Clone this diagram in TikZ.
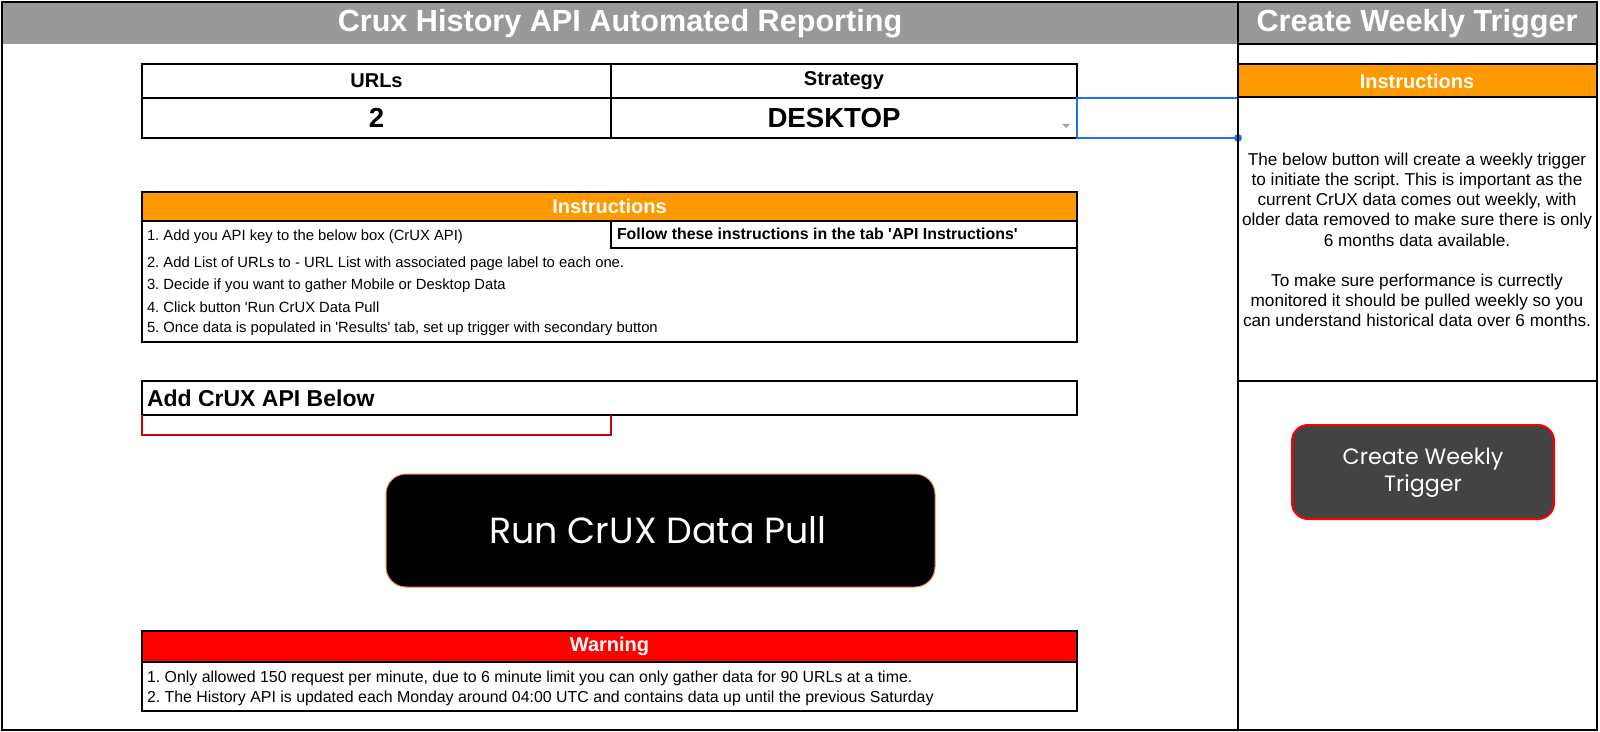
\documentclass[tikz,border=0pt]{standalone}
\usepackage{fontspec}
\setmainfont{Liberation Sans}[Ligatures = TeXOff]
\newfontfamily\btnfont{Poppins}
\usetikzlibrary{positioning}
\frenchspacing

\definecolor{titlegray}{HTML}{999999}
\definecolor{instrorange}{HTML}{FF9900}
\definecolor{warnred}{HTML}{FF0000}
\definecolor{btngray}{HTML}{434343}
\definecolor{selblue}{HTML}{1A73E8}
\definecolor{btnedge}{HTML}{E69138}
\definecolor{celledge}{HTML}{CC0000}

\begin{document}
\begin{tikzpicture}[
                x = 0.5pt, y = -0.5pt, % one unit per pixel
                node distance = 10.75pt, % distance between step lines
                line width = 1pt % cell borders
            ]

            \tikzstyle{every node}=[
            inner sep = 0pt,
            outer sep = 0pt
            ]
            \tikzstyle{big}=[text = white, font = \bfseries\fontsize{15.3}{18}\selectfont]
            \tikzstyle{head}=[text = white, font = \bfseries\fontsize{10}{12}\selectfont]
            \tikzstyle{stepline}=[anchor = west, font = \fontsize{7.4}{9}\selectfont]
            \tikzstyle{warnline}=[anchor = west, font = \fontsize{7.95}{9.5}\selectfont]
            \tikzstyle{btn}=[text = white, align = center]

            \useasboundingbox (0,0) rectangle (1600,732);

            % title bar
            \fill[titlegray] (2,2) rectangle (1597,44);
            \node[big] (title) at (620,24) {Crux History API Automated Reporting};
            \node[big] (trig) at (1417,24) {Create Weekly Trigger};

            % right column
            \fill[instrorange] (1238,64) rectangle (1597,97);
            \node[head] (rinstr) at (1417,81) {Instructions};
            \node[font = \fontsize{8.6}{10.1}\selectfont, align = center] (rtext) at (1417,240)
                {The below button will create a weekly trigger\\
                 to initiate the script. This is important as the\\
                 current CrUX data comes out weekly, with\\
                 older data removed to make sure there is only\\
                 6 months data available.\\[10.1pt]
                 To make sure performance is currectly\\
                 monitored it should be pulled weekly so you\\
                 can understand historical data over 6 months.};
            \draw[rounded corners = 8pt, fill = btngray, draw = red] (1292,425) rectangle (1554,519);
            \node[btn, font = \btnfont\fontsize{11.1}{13.5}\selectfont] (weekly) at (1423,473) {Create Weekly\\Trigger};
            \draw (1238,44) -- (1597,44);
            \draw (1238,64) -- (1597,64) (1238,97) -- (1597,97) (1238,381) -- (1597,381);

            % url table
            \node[font = \bfseries\fontsize{10}{12}\selectfont] (urls) at (376.5,81) {URLs};
            \node[font = \bfseries\fontsize{10}{12}\selectfont] (strat) at (844,81) {Strategy};
            \node[font = \bfseries\fontsize{13.8}{16}\selectfont] (count) at (376.5,118) {2};
            \node[font = \bfseries\fontsize{13.8}{16}\selectfont] (mode) at (834,118) {DESKTOP};
            \fill[gray!70] (1062,124) -- (1070,124) -- (1066,128) -- cycle;
            \draw (142,64) rectangle (1077,138) (142,98) -- (1077,98) (611,64) -- (611,138);
            \draw[selblue, line width = 0.75pt] (1077,98) rectangle (1238,138);
            \fill[selblue] (1238,138) circle (4);

            % instructions
            \fill[instrorange] (142,192) rectangle (1077,221);
            \node[head] (instr) at (609.5,206) {Instructions};
            \node[stepline] (s1) at (147,237) {1. Add you API key to the below box (CrUX API)};
            \node[stepline] (s2) at (147,264) {2. Add List of URLs to - URL List with associated page label to each one.};
            \node[stepline, below = of s2.west, anchor = west] (s3) {3. Decide if you want to gather Mobile or Desktop Data};
            \node[stepline, below = of s3.west, anchor = west] (s4) {4. Click button 'Run CrUX Data Pull};
            \node[stepline, below = of s4.west, anchor = west] (s5) {5. Once data is populated in 'Results' tab, set up trigger with secondary button};
            \node[warnline, font = \bfseries\fontsize{7.95}{9.5}\selectfont] (follow) at (617,234) {Follow these instructions in the tab 'API Instructions'};
            \draw (142,192) rectangle (1077,342) (142,221) -- (1077,221);
            \draw (611,221) rectangle (1077,248);

            % api key box
            \node[anchor = west, font = \bfseries\fontsize{11.5}{14}\selectfont] (apikey) at (147,398) {Add CrUX API Below};
            \draw (142,381) rectangle (1077,415);
            \draw[celledge] (142,415) -- (142,435) -- (611,435) -- (611,415);

            % run button
            \draw[rounded corners = 10pt, fill = black, draw = btnedge, line width = 0.5pt] (386,474) rectangle (935,587);
            \node[btn, font = \btnfont\fontsize{18.2}{21}\selectfont] (run) at (658,530) {Run CrUX Data Pull};

            % warning
            \fill[warnred] (142,631) rectangle (1077,662);
            \node[head] (warn) at (609.5,646) {Warning};
            \node[warnline] (w1) at (147,678) {1. Only allowed 150 request per minute, due to 6 minute limit you can only gather data for 90 URLs at a time.};
            \node[warnline, below = 10.25pt of w1.west, anchor = west] (w2) {2. The History API is updated each Monday around 04:00 UTC and contains data up until the previous Saturday};
            \draw (142,631) rectangle (1077,711) (142,662) -- (1077,662);

            % frame
            \draw (1238,2) -- (1238,730);
            \draw (2,2) rectangle (1597,730);
        \end{tikzpicture}
\end{document}
